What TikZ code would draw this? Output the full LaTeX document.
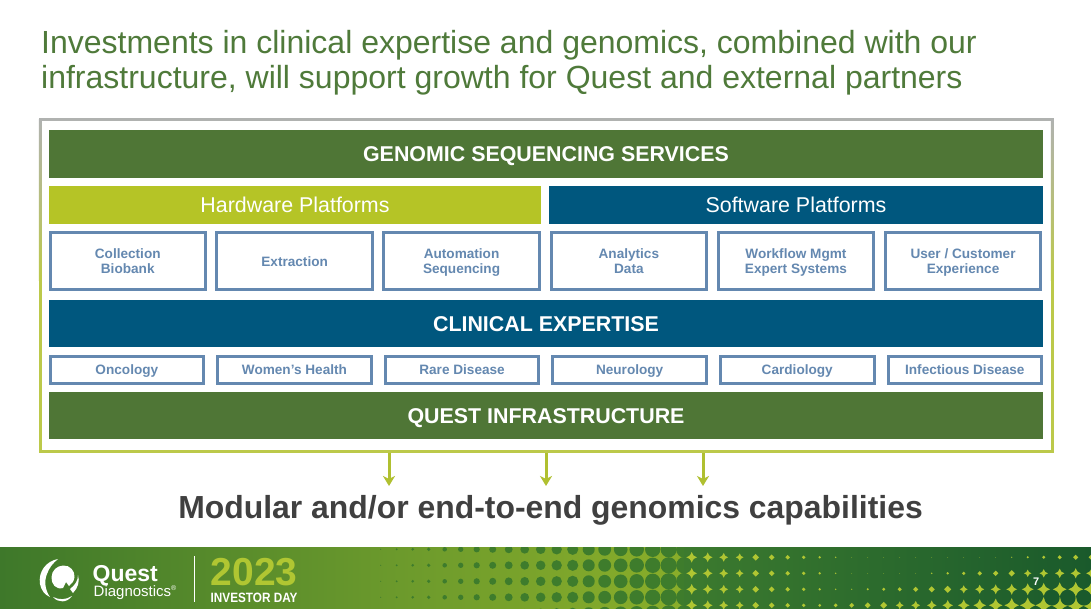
\documentclass[tikz,border=0pt]{standalone}
\usepackage{xcolor}
\usepackage{fontspec}
\setmainfont{Liberation Sans}
\usetikzlibrary{positioning,arrows.meta}
\definecolor{titlegreen}{RGB}{79, 122, 58}
\definecolor{bargreen}{RGB}{79, 118, 54}
\definecolor{barlime}{RGB}{181, 196, 38}
\definecolor{barblue}{RGB}{0, 87, 126}
\definecolor{boxblue}{RGB}{100, 136, 176}
\definecolor{framelime}{RGB}{188, 201, 74}
\definecolor{framegray}{RGB}{176, 178, 176}
\definecolor{arrowlime}{RGB}{176, 192, 48}
\definecolor{darktext}{RGB}{64, 64, 64}
\definecolor{dotgreen}{RGB}{62, 124, 44}
\definecolor{footleft}{RGB}{62, 120, 42}
\definecolor{footmid}{RGB}{108, 154, 44}
\definecolor{footpeak}{RGB}{138, 174, 42}
\definecolor{footdark}{RGB}{60, 122, 46}
\definecolor{footend}{RGB}{26, 90, 44}
\definecolor{sparklime}{RGB}{176, 198, 50}
\newcommand{\fsize}[1]{\fontsize{#1}{15}\selectfont}
\newcommand{\liftline}{\rule{0pt}{14pt}}
\newcommand{\limestar}[3]{\fill[sparklime] (#1-#3,#2) .. controls (#1-0.3*#3,#2-0.3*#3) .. (#1,#2-#3) .. controls (#1+0.3*#3,#2-0.3*#3) .. (#1+#3,#2) .. controls (#1+0.3*#3,#2+0.3*#3) .. (#1,#2+#3) .. controls (#1-0.3*#3,#2+0.3*#3) .. cycle;}
\tikzset{
  bandbar/.style={fill=#1, text=white, outer sep=0pt, font=\fsize{21.4}\bfseries, text height=15.4pt, text depth=0pt, minimum width=994pt, minimum height=47pt, inner sep=0pt},
  platbar/.style={fill=#1, text=white, outer sep=0pt, font=\fsize{21.4}, text height=15.4pt, text depth=0pt, minimum height=38pt, inner sep=0pt},
  techbox/.style={draw=boxblue, line width=3pt, fill=white, text=boxblue, font=\fsize{13.6}\bfseries, align=center, minimum width=155.5pt, minimum height=56.7pt, inner sep=0pt, execute at end node={\rule[-3pt]{0pt}{3pt}}},
  areabox/.style={draw=boxblue, line width=3pt, fill=white, text=boxblue, font=\fsize{13.6}\bfseries, text height=9.8pt, text depth=0pt, minimum width=153.5pt, minimum height=27pt, inner sep=0pt},
  outarrow/.style={draw=arrowlime, line width=3pt, -{Stealth[length=10pt,width=12pt,inset=3pt]}},
  foottext/.style={text=white, inner sep=0pt, anchor=base west}
}
\begin{document}
\begin{tikzpicture}[x=1pt, y=-1pt]
  \useasboundingbox (0,0) rectangle (1091,608);
  \fill[white] (0,0) rectangle (1091,608);
  \node[text=titlegreen, font=\fontsize{32}{35}\selectfont, align=left, anchor=north west, inner sep=0pt] (title) at (41,30) {Investments in clinical expertise and genomics, combined with our\\infrastructure, will support growth for Quest and external partners};

  % frame and bars
  \node[draw=framelime, line width=3pt, minimum width=1012pt, minimum height=331.6pt, inner sep=0pt] (frame) at (546.4,285.5) {};
  \shade[top color=framegray, bottom color=framelime] (38.9,119) rectangle (41.9,280);
  \shade[top color=framegray, bottom color=framelime] (1050.9,119) rectangle (1053.9,280);
  \fill[framegray] (38.9,118.2) rectangle (1053.9,121.2);
  \node[bandbar=bargreen, minimum height=48pt, anchor=north west] (genomic) at (49,130) {GENOMIC SEQUENCING SERVICES};
  \node[platbar=barlime, minimum width=492pt, below right=8pt and 0pt of genomic.south west] (hardware) {Hardware Platforms};
  \node[platbar=barblue, minimum width=494pt, right=8pt of hardware] (software) {Software Platforms};

  \node[techbox, below right=7pt and -0.5pt of hardware.south west] (collection) {\liftline Collection\\Biobank};
  \node[techbox, right=8.4pt of collection] (extraction) {\liftline Extraction};
  \node[techbox, right=8.4pt of extraction] (automation) {\liftline Automation\\Sequencing};
  \node[techbox, right=8.8pt of automation] (analytics) {\liftline Analytics\\Data};
  \node[techbox, right=8.6pt of analytics] (workflow) {\liftline Workflow Mgmt\\Expert Systems};
  \node[techbox, right=8.6pt of workflow] (customer) {\liftline User / Customer\\Experience};

  \node[bandbar=barblue, below right=9.3pt and 0.5pt of collection.south west] (clinical) {CLINICAL EXPERTISE};

  \node[areabox, below right=7.5pt and -0.4pt of clinical.south west] (oncology) {Oncology};
  \node[areabox, right=11.1pt of oncology] (womens) {Women’s Health};
  \node[areabox, right=11.1pt of womens] (rare) {Rare Disease};
  \node[areabox, right=11.1pt of rare] (neurology) {Neurology};
  \node[areabox, right=11.1pt of neurology] (cardiology) {Cardiology};
  \node[areabox, right=11.1pt of cardiology] (infectious) {Infectious Disease};

  \node[bandbar=bargreen, below right=7.5pt and 0.4pt of oncology.south west] (infra) {QUEST INFRASTRUCTURE};

  % arrows out of the frame
  \node[text=darktext, font=\fontsize{31.9}{35}\selectfont\bfseries, inner sep=0pt] (modular) at (550.5,510) {Modular and/or end-to-end genomics capabilities};
  \coordinate (outa) at (389,486);
  \coordinate (outb) at (546,486);
  \coordinate (outc) at (703,486);
  \draw[outarrow] (outa |- frame.south) -- (outa);
  \draw[outarrow] (outb |- frame.south) -- (outb);
  \draw[outarrow] (outc |- frame.south) -- (outc);

  % footer band
  \shade[left color=footleft, right color=footmid] (0,547) rectangle (400,608);
  \shade[left color=footmid, right color=footpeak] (400,547) rectangle (684.7,608);
  \begin{scope}
    \clip (0,547) rectangle (1091,608);
    \foreach \n in {0,...,19} \foreach \k in {0,...,4} {
      \pgfmathsetmacro{\cx}{380.7+16*\n}
      \pgfmathsetmacro{\rad}{max(0.3,1+(\cx-396)*0.026)}
      \fill[dotgreen] (\cx,549.3+16*\k) circle[radius=\rad];
    }
    \shade[left color=footdark, right color=footend] (684.7,547) rectangle (1091,608);
    \foreach \n in {0,...,25} \foreach \row/\xzero in {557.3/990,573.3/905,589.3/830,605.3/770} {
      \pgfmathsetmacro{\cx}{691.7+16*\n}
      \pgfmathsetmacro{\rad}{max(0.3,max((860-\cx)*0.032,(\cx-\xzero)*0.03))}
      \limestar{\cx}{\row}{\rad}
    }
    \foreach \cx in {1052,1068,1084}
      \fill[footend] (\cx,598) circle[radius=7.6];
  \end{scope}

  % logo
  \fill[white] (58,559) .. controls (46,561) and (38,572) .. (40,584) .. controls (41,590) and (45,595) .. (50,597) .. controls (45,590) and (44,581) .. (47,574) .. controls (49,568) and (53,563) .. (58,559) -- cycle;
  \fill[white] (63,565.5) .. controls (70,565) and (75,571) .. (74.5,577) .. controls (74,581) and (72,584) .. (69,586) -- (66,582) -- (63,588) .. controls (56,590) and (51,584) .. (51.5,577) .. controls (52,570) and (57,566) .. (63,565.5) -- cycle;
  \fill[white] (78,575) .. controls (80,581) and (78,588) .. (73,593) -- (70,589) .. controls (75,585) and (78,581) .. (78,575) -- cycle;
  \fill[white] (53,597) .. controls (59,600) and (66,600) .. (72,596) .. controls (67,603) and (58,603) .. (53,597) -- cycle;
  \node[foottext, font=\fsize{23}\bfseries, text depth=0pt] (quest) at (92.5,581.5) {Quest};
  \node[foottext, font=\fsize{15}] (diagnostics) at (93.5,596) {Diagnostics\textsuperscript{\fsize{7}®}};
  \draw[white, line width=0.8pt] (194.5,556) -- (194.5,602);
  \node[foottext, text=sparklime, font=\fsize{39}\bfseries] (year) at (210.5,585) {2023};
  \node[foottext, font=\fsize{13.5}\bfseries] (investor) at (210.5,602.5) {\scalebox{.87}[1]{INVESTOR DAY}};
  \node[foottext, font=\fsize{11}\bfseries] (pagenum) at (1033,585) {7};
\end{tikzpicture}
\end{document}
